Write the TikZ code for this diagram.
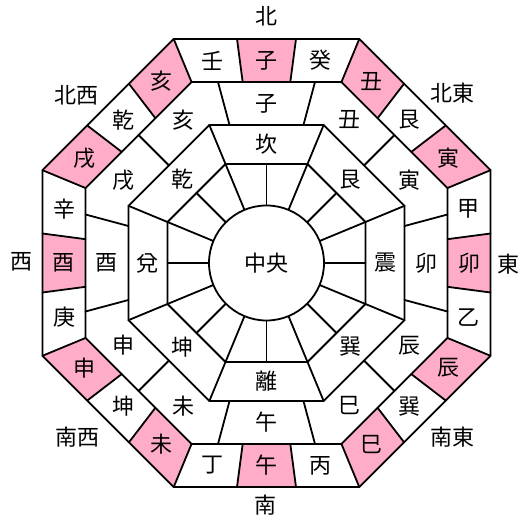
\documentclass[tikz,border=0pt]{standalone}
\usepackage{fontspec}
\newfontfamily\jp{Noto Sans CJK JP}
\definecolor{pinkc}{RGB}{255,172,200}
\tikzset{
  ln/.style={line width=1.8pt, line join=round, line cap=round},
  lbl/.style={font=\jp\fontsize{22}{22}\selectfont, inner sep=0pt},
  pinkcell/.style={fill=pinkc},
}
\begin{document}
\begin{tikzpicture}[x=1pt,y=1pt,
  declare function={octr(\a,\p)=\a/cos(mod(\p+22.5,45)-22.5);}]
\useasboundingbox (-266.5,-261) rectangle (265.5,263);
% pink cells in outer ring
\foreach \k in {0,...,11}{
  \pgfmathsetmacro\aa{30*\k+352.5}
  \pgfmathsetmacro\bb{30*\k+7.5}
  \fill[pinkcell] (\aa:{octr(224,\aa)}) -- (\bb:{octr(224,\bb)}) -- (\bb:{octr(181,\bb)}) -- (\aa:{octr(181,\aa)}) -- cycle;
}
% octagons
\foreach \a in {224,181,138,99}{
  \draw[ln] (22.5:{\a/cos(22.5)}) \foreach \t in {67.5,112.5,...,337.5}{ -- (\t:{\a/cos(22.5)}) } -- cycle;
}
% radial lines
\foreach \t in {7.5,22.5,...,352.5}
  \draw[ln] (\t:{octr(181,\t)}) -- (\t:{octr(224,\t)});
\foreach \t in {15,45,...,345}
  \draw[ln] (\t:{octr(138,\t)}) -- (\t:{octr(181,\t)});
\foreach \t in {22.5,67.5,...,337.5}
  \draw[ln] (\t:{octr(99,\t)}) -- (\t:{octr(138,\t)});
\foreach \t in {0,22.5,...,337.5}
  \draw[ln] (\t:57.5) -- (\t:{octr(99,\t)});
% centre
\node[lbl, circle, draw, ln, fill=white, minimum size=115pt] (center) at (0,0) {中央};
% outer ring labels (24 mountains)
\foreach \c [count=\i from 0] in {子,癸,丑,艮,寅,甲,卯,乙,辰,巽,巳,丙,午,丁,未,坤,申,庚,酉,辛,戌,乾,亥,壬}{
  \pgfmathsetmacro\p{mod(450-15*\i,360)}
  \node[lbl] (o\i) at (\p:{octr(202.5,\p)}) {\c};
}
% second ring labels (12 branches)
\foreach \c [count=\i from 0] in {子,丑,寅,卯,辰,巳,午,未,申,酉,戌,亥}{
  \pgfmathsetmacro\p{mod(450-30*\i,360)}
  \node[lbl] (m\i) at (\p:{octr(159.5,\p)}) {\c};
}
% third ring labels (8 trigrams)
\foreach \c [count=\i from 0] in {坎,艮,震,巽,離,坤,兌,乾}{
  \pgfmathsetmacro\p{mod(450-45*\i,360)}
  \node[lbl] (t\i) at (\p:118.5) {\c};
}
% compass directions
\node[lbl] (dN)  at (0,247) {北};
\node[lbl] (dNE) at (185.5,170) {北東};
\node[lbl] (dE)  at (241.5,-1) {東};
\node[lbl] (dSE) at (185.5,-174) {南東};
\node[lbl] (dS)  at (-1.5,-242) {南};
\node[lbl] (dSW) at (-188.5,-174) {南西};
\node[lbl] (dW)  at (-244.5,1) {西};
\node[lbl] (dNW) at (-189.5,168) {北西};
\end{tikzpicture}
\end{document}
